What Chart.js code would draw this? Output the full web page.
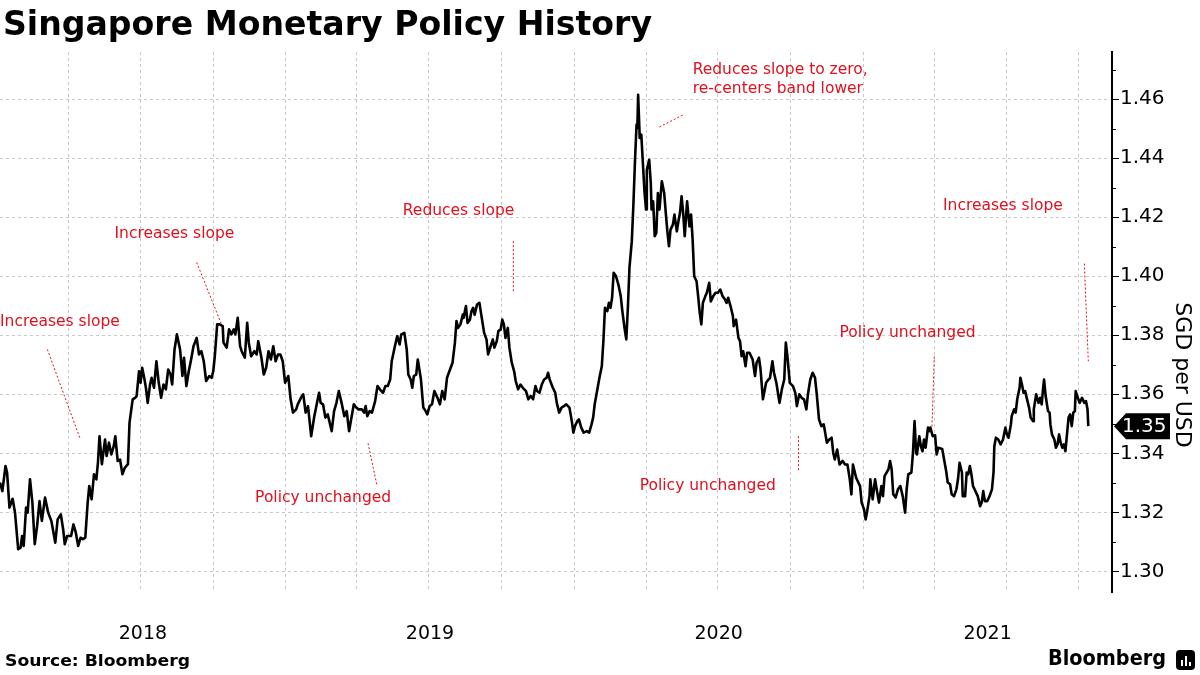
<!DOCTYPE html>
<html><head><meta charset="utf-8">
<script src="https://cdn.jsdelivr.net/npm/chart.js"></script>
<style>
html,body{margin:0;padding:0;background:#fff;}
#wrap{position:relative;width:1200px;height:675px;overflow:hidden;background:#fff;}
#c{position:absolute;left:0;top:0;}
#title{position:absolute;left:3px;top:3px;font-family:"DejaVu Sans";font-weight:bold;font-size:34px;color:#000;white-space:nowrap;transform-origin:0 0;line-height:1.2;}
#source{position:absolute;left:5px;top:651px;font-family:"DejaVu Sans";font-weight:bold;font-size:16px;color:#000;white-space:nowrap;transform-origin:0 0;line-height:1.2;}
#brand{position:absolute;left:1048px;top:645px;font-family:"DejaVu Sans";font-weight:bold;font-size:22px;color:#000;white-space:nowrap;transform-origin:0 0;line-height:1.2;}
#icon{position:absolute;left:1176px;top:650px;width:19px;height:20px;background:#000;border-radius:4px;}
#icon i{position:absolute;bottom:4px;width:2px;background:#fff;}
</style></head><body>
<div id="wrap">
<canvas id="c" width="1200" height="675"></canvas>
<div id="title">Singapore Monetary Policy History</div>
<div id="source">Source: Bloomberg</div>
<div id="brand">Bloomberg</div>
<div id="icon"><i style="left:5px;height:6px"></i><i style="left:9px;height:10px"></i><i style="left:13px;height:4px"></i></div>
</div>
<script>
// USD/SGD (SGD per USD), x = days since 2018-01-01
const days = [
3,6,10,12,15,19,22,26,29,31,33,36,38,41,44,47,50,53,56,60,64,68,70,73,76,80,83,85,88,93,96,99,102,105,108,111,114,116,119,122,125,127,129,132,136,138,141,144,147,149,152,155,158,161,165,167,171,174,176,179,181,183,186,188,190,193,195,198,201,204,207,210,213,216,219,221,224,227,231,234,236,239,242,245,248,252,255,258,261,264,268,271,273,275,278,281,285,286,
290,293,296,299,301,304,307,309,313,316,318,321,325,328,330,334,337,340,343,346,349,352,355,358,361,364,368,371,374,378,380,384,387,390,393,397,401,404,407,409,412,415,418,423,426,429,432,435,439,442,445,448,451,454,457,461,464,466,468,471,474,478,481,484,488,491,494,497,499,503,506,509,511,515,518,520,523,525,527,530,532,536,539,542,544,547,550,553,557,560,
563,566,569,572,576,579,581,583,586,589,590,593,595,598,600,602,604,607,610,613,616,619,621,623,627,629,632,634,637,639,641,643,646,648,651,654,656,659,662,665,669,672,675,678,681,683,686,689,692,695,697,699,703,706,708,711,714,717,720,724,727,729,731,734,736,739,742,746,749,752,754,756,759,762,765,767,769,772,774,776,778,780,783,786,789,791,794,796,798,800,803,805,807,809,810,811,813,815,817,819,821,822,825,827,828,830,832,834,836,838,841,
844,846,848,850,852,855,857,860,862,864,866,868,870,873,876,878,880,882,885,887,889,891,893,896,898,901,903,906,909,912,915,918,921,923,925,928,931,932,935,938,940,942,944,947,949,952,956,959,961,964,966,969,973,976,978,981,983,986,990,993,996,998,1000,1003,1007,1010,1012,1015,1018,1021,1024,1026,1029,1032,1035,1037,1040,1043,1046,1050,1053,1056,1058,1060,1063,1066,1070,1073,1076,1079,1081,1083,1087,1090,1092,1094,1097,1099,1101,1104,1105,1108,1111,1113,1116,
1119,1121,1123,1128,1130,1132,1134,1137,1140,1143,1146,1149,1151,1153,1157,1159,1161,1163,1164,1167,1169,1171,1173,1175,1178,1180,1181,1184,1187,1189,1191,1196,1198,1201,1203,1206,1208,1211,1214,1216,1218,1221,1222,1225,1227,1229,1231,1233,1235,1241,1244,1246,1248,1250,1253,1256,1259,1261,1262,1264,1267,1270,1273,1276,1278,1280,1283,1284,1287,1289,1291,1294,1295,1297,1299,1301,1303,1306,1308,1311,1312,1315,1318,1320,1322,1324,1325,1327,1330,1332,1333,1335,1338,1340,1342,1344,1346,1348,1350,1352,1354,1356,1358,1360,1362,1364,1365,1367,1370,1373,1376,1378,1380,1381
];
const usdsgd = [
1.3301,1.3272,1.3357,1.3334,1.3216,1.3246,1.3199,1.3075,1.3080,1.3120,1.3086,1.3216,1.3199,1.3312,1.3233,1.3092,1.3154,1.3238,1.3171,1.3250,1.3199,1.3171,1.3142,1.3097,1.3176,1.3193,1.3142,1.3092,1.3120,1.3120,1.3159,1.3131,1.3086,1.3114,1.3109,1.3114,1.3233,1.3289,1.3244,1.3329,1.3312,1.3368,1.3458,1.3363,1.3447,1.3391,1.3436,1.3396,1.3424,1.3458,1.3374,1.3379,1.3329,1.3351,1.3363,1.3504,1.3583,1.3588,1.3594,1.3678,1.3639,1.3690,1.3650,1.3617,1.3571,1.3633,1.3656,1.3622,1.3712,1.3639,1.3588,1.3633,1.3617,1.3684,1.3667,1.3633,1.3752,1.3803,1.3752,1.3662,1.3724,1.3628,1.3678,1.3718,1.3763,1.3791,1.3735,1.3746,1.3712,1.3645,1.3662,1.3656,1.3678,1.3729,1.3837,1.3837,1.3831,1.3775,
1.3758,1.3820,1.3803,1.3820,1.3803,1.3859,1.3763,1.3746,1.3724,1.3842,1.3775,1.3729,1.3746,1.3735,1.3780,1.3724,1.3667,1.3690,1.3746,1.3718,1.3763,1.3712,1.3735,1.3735,1.3712,1.3639,1.3662,1.3583,1.3538,1.3549,1.3566,1.3588,1.3600,1.3538,1.3560,1.3458,1.3526,1.3566,1.3605,1.3571,1.3566,1.3521,1.3532,1.3475,1.3543,1.3571,1.3611,1.3577,1.3526,1.3543,1.3475,1.3521,1.3566,1.3555,1.3549,1.3549,1.3538,1.3560,1.3526,1.3543,1.3538,1.3577,1.3628,1.3617,1.3605,1.3628,1.3628,1.3650,1.3712,1.3763,1.3797,1.3769,1.3803,1.3808,1.3752,1.3667,1.3650,1.3622,1.3662,1.3667,1.3718,1.3650,1.3555,1.3543,1.3532,1.3560,1.3566,1.3611,1.3588,1.3566,
1.3611,1.3583,1.3656,1.3678,1.3707,1.3775,1.3848,1.3825,1.3837,1.3870,1.3859,1.3899,1.3842,1.3853,1.3882,1.3893,1.3870,1.3904,1.3910,1.3859,1.3808,1.3786,1.3735,1.3752,1.3786,1.3758,1.3780,1.3814,1.3820,1.3853,1.3837,1.3791,1.3825,1.3758,1.3707,1.3678,1.3645,1.3617,1.3633,1.3622,1.3611,1.3583,1.3594,1.3583,1.3628,1.3611,1.3605,1.3633,1.3650,1.3656,1.3673,1.3650,1.3622,1.3605,1.3571,1.3538,1.3555,1.3560,1.3566,1.3555,1.3509,1.3470,1.3492,1.3509,1.3515,1.3487,1.3470,1.3475,1.3470,1.3498,1.3521,1.3566,1.3611,1.3656,1.3695,1.3780,1.3893,1.3882,1.3910,1.3893,1.3927,1.4012,1.4000,1.3972,1.3932,1.3882,1.3820,1.3786,1.3893,1.4029,1.4119,1.4243,1.4390,1.4514,1.4503,1.4615,1.4469,1.4480,1.4384,1.4288,1.4226,1.4361,1.4395,1.4316,1.4226,1.4254,1.4136,1.4147,1.4282,1.4226,1.4322,
1.4282,1.4215,1.4152,1.4102,1.4158,1.4175,1.4209,1.4152,1.4186,1.4215,1.4271,1.4215,1.4136,1.4254,1.4169,1.4209,1.4124,1.4000,1.3983,1.3932,1.3876,1.3837,1.3910,1.3932,1.3944,1.3978,1.3915,1.3932,1.3944,1.3944,1.3955,1.3932,1.3921,1.3910,1.3927,1.3899,1.3865,1.3831,1.3853,1.3791,1.3780,1.3729,1.3746,1.3695,1.3741,1.3741,1.3718,1.3662,1.3707,1.3724,1.3684,1.3583,1.3639,1.3650,1.3656,1.3712,1.3673,1.3639,1.3571,1.3617,1.3650,1.3775,1.3729,1.3639,1.3628,1.3605,1.3560,1.3600,1.3588,1.3583,1.3549,1.3600,1.3650,1.3673,1.3656,1.3605,1.3515,1.3492,1.3498,1.3436,1.3447,1.3453,1.3402,1.3379,1.3413,1.3362,1.3374,1.3362,1.3362,1.3312,1.3261,1.3362,1.3317,1.3300,1.3289,1.3233,1.3210,1.3176,1.3204,1.3255,1.3312,1.3244,1.3312,1.3278,1.3233,
1.3289,1.3255,1.3323,1.3346,1.3374,1.3346,1.3261,1.3250,1.3278,1.3289,1.3255,1.3199,1.3278,1.3329,1.3335,1.3402,1.3509,1.3402,1.3396,1.3458,1.3424,1.3407,1.3447,1.3419,1.3487,1.3475,1.3487,1.3458,1.3461,1.3396,1.3419,1.3415,1.3385,1.3340,1.3301,1.3295,1.3261,1.3255,1.3278,1.3312,1.3368,1.3335,1.3255,1.3255,1.3335,1.3329,1.3357,1.3329,1.3289,1.3255,1.3221,1.3233,1.3272,1.3238,1.3238,1.3255,1.3278,1.3335,1.3424,1.3453,1.3447,1.3430,1.3447,1.3487,1.3464,1.3453,1.3498,1.3526,1.3549,1.3538,1.3583,1.3622,1.3656,1.3633,1.3605,1.3611,1.3588,1.3555,1.3521,1.3509,1.3549,1.3600,1.3571,1.3588,1.3566,1.3628,1.3650,1.3594,1.3543,1.3538,1.3498,1.3464,1.3447,1.3419,1.3430,1.3464,1.3436,1.3419,1.3430,1.3407,1.3464,1.3521,1.3532,1.3492,1.3538,1.3543,1.3611,1.3594,1.3571,1.3588,1.3571,1.3577,1.3549,1.3492
];

// x axis: quarter boundaries (days since 2018-01-01) and year label spans
const quarterTicks = [90,181,273,365,455,546,638,730,821,912,1004,1096,1186,1277,1369];
const yearLabels = ['2018','2019','2020','2021'];
const yearStarts = [0,365,730,1096];
const yearEnds = [365,730,1096,1461];
const xMin = 3, xMax = 1411;

// y axis
const yMajorTicks = [1.30,1.32,1.34,1.36,1.38,1.40,1.42,1.44,1.46];
const yTickLabels = ['1.30','1.32','1.34','1.36','1.38','1.40','1.42','1.44','1.46'];
const yMinorTicks = [1.31,1.33,1.35,1.37,1.39,1.41,1.43,1.45,1.47];
const yMin = 1.293, yMax = 1.476;
const yTitle = 'SGD per USD';

// policy annotations: text anchor (day, value) and leader line (day, value) -> (day, value)
const notes = [
  {text:['Increases slope'], at:[3,1.3830], line:[63,1.3752,104,1.3453]},
  {text:['Increases slope'], at:[148,1.4131], line:[252,1.4047,283,1.3840]},
  {text:['Policy unchanged'], at:[326,1.3234], line:[469,1.3434,480,1.3295]},
  {text:['Reduces slope'], at:[513,1.4206], line:[653,1.4119,653,1.3944]},
  {text:['Reduces slope to zero,','re-centers band lower'], at:[880,1.4685], line:[838,1.4506,868,1.4547]},
  {text:['Policy unchanged'], at:[813,1.3274], line:[1014,1.3458,1014,1.3340]},
  {text:['Policy unchanged'], at:[1066,1.3793], line:[1186,1.3728,1183,1.3487]},
  {text:['Increases slope'], at:[1197,1.4226], line:[1376,1.4043,1381,1.3712]}
];

const RED = '#e0101e';
const GRID = '#c8c8c8';

function fitWidth(id, w){
  const el = document.getElementById(id);
  const cur = el.getBoundingClientRect().width;
  el.style.transform = 'scaleX(' + (w/cur) + ')';
}
fitWidth('title', 649);
fitWidth('source', 185);
fitWidth('brand', 118);

const overlay = {
  id:'overlay',
  afterDraw(chart){
    const {ctx, chartArea:ca, scales:{x, y}} = chart;
    ctx.save();
    // axis ticks
    ctx.strokeStyle = '#000'; ctx.lineWidth = 1; ctx.setLineDash([]);
    yMajorTicks.forEach(v=>{const p=Math.round(y.getPixelForValue(v))+0.5; ctx.beginPath(); ctx.moveTo(ca.right,p); ctx.lineTo(ca.right+7,p); ctx.stroke();});
    yMinorTicks.forEach(v=>{const p=Math.round(y.getPixelForValue(v))+0.5; ctx.beginPath(); ctx.moveTo(ca.right,p); ctx.lineTo(ca.right+4,p); ctx.stroke();});
    // annotations
    ctx.fillStyle = RED; ctx.strokeStyle = RED;
    ctx.font = '15.5px "DejaVu Sans"'; ctx.textAlign='left'; ctx.textBaseline='alphabetic';
    notes.forEach(n=>{
      const tx = x.getPixelForValue(n.at[0]), ty = y.getPixelForValue(n.at[1]);
      n.text.forEach((t,i)=>ctx.fillText(t, Math.max(0,tx), ty + i*18.5));
      ctx.setLineDash([2,2]); ctx.lineWidth = 1;
      ctx.beginPath();
      ctx.moveTo(x.getPixelForValue(n.line[0]), y.getPixelForValue(n.line[1]));
      ctx.lineTo(x.getPixelForValue(n.line[2]), y.getPixelForValue(n.line[3]));
      ctx.stroke();
    });
    ctx.setLineDash([]);
    // year labels
    ctx.fillStyle = '#000'; ctx.font = '19px "DejaVu Sans"'; ctx.textAlign='center'; ctx.textBaseline='middle';
    yearLabels.forEach((lab,i)=>{
      const a = Math.max(yearStarts[i], xMin), b = Math.min(yearEnds[i], xMax);
      ctx.fillText(lab, x.getPixelForValue((a+b)/2), 634);
    });
    // axis title
    ctx.save();
    ctx.translate(1176, (ca.top+ca.bottom)/2 + 53);
    ctx.rotate(Math.PI/2);
    ctx.font = '22px "DejaVu Sans"'; ctx.textAlign='center'; ctx.textBaseline='alphabetic';
    ctx.fillText(yTitle, 0, 0);
    ctx.restore();
    // last value flag
    const last = usdsgd[usdsgd.length-1];
    const py = y.getPixelForValue(last);
    const x0 = ca.right + 2;
    ctx.fillStyle = '#000';
    ctx.beginPath();
    ctx.moveTo(x0, py); ctx.lineTo(x0+12, py-13); ctx.lineTo(1170, py-13); ctx.lineTo(1170, py+13); ctx.lineTo(x0+12, py+13); ctx.closePath();
    ctx.fill();
    ctx.fillStyle = '#fff'; ctx.font = '20px "DejaVu Sans"'; ctx.textAlign='left'; ctx.textBaseline='middle';
    ctx.fillText(last.toFixed(2), 1122, py+1);
    ctx.restore();
  }
};

new Chart(document.getElementById('c'), {
  type:'line',
  data:{datasets:[{data: days.map((d,i)=>({x:d, y:usdsgd[i]})), borderColor:'#000', borderWidth:2.6, pointRadius:0, tension:0, fill:false, borderJoinStyle:'round'}]},
  options:{
    responsive:false, animation:false, devicePixelRatio:1,
    layout:{padding:{top:52, left:0, right:0, bottom:0}},
    plugins:{legend:{display:false}, tooltip:{enabled:false}, title:{display:false}},
    scales:{
      x:{type:'linear', min:xMin, max:xMax,
         afterBuildTicks: s=>{ s.ticks = quarterTicks.map(v=>({value:v})); },
         ticks:{display:false},
         grid:{color:GRID, lineWidth:1, drawTicks:false},
         border:{display:false, dash:[3,3]},
         afterFit: s=>{ s.height = 83; }},
      y:{type:'linear', position:'right', min:yMin, max:yMax,
         afterBuildTicks: s=>{ s.ticks = yMajorTicks.map(v=>({value:v})); },
         ticks:{color:'#000', font:{family:'DejaVu Sans', size:20}, padding:8, callback:(v,i)=>yTickLabels[i]},
         grid:{color:GRID, lineWidth:1, drawTicks:false},
         border:{display:true, color:'#000', width:2, dash:[3,3]},
         afterFit: s=>{ s.width = 88; }}
    }
  },
  plugins:[overlay]
});
</script>
</body></html>
